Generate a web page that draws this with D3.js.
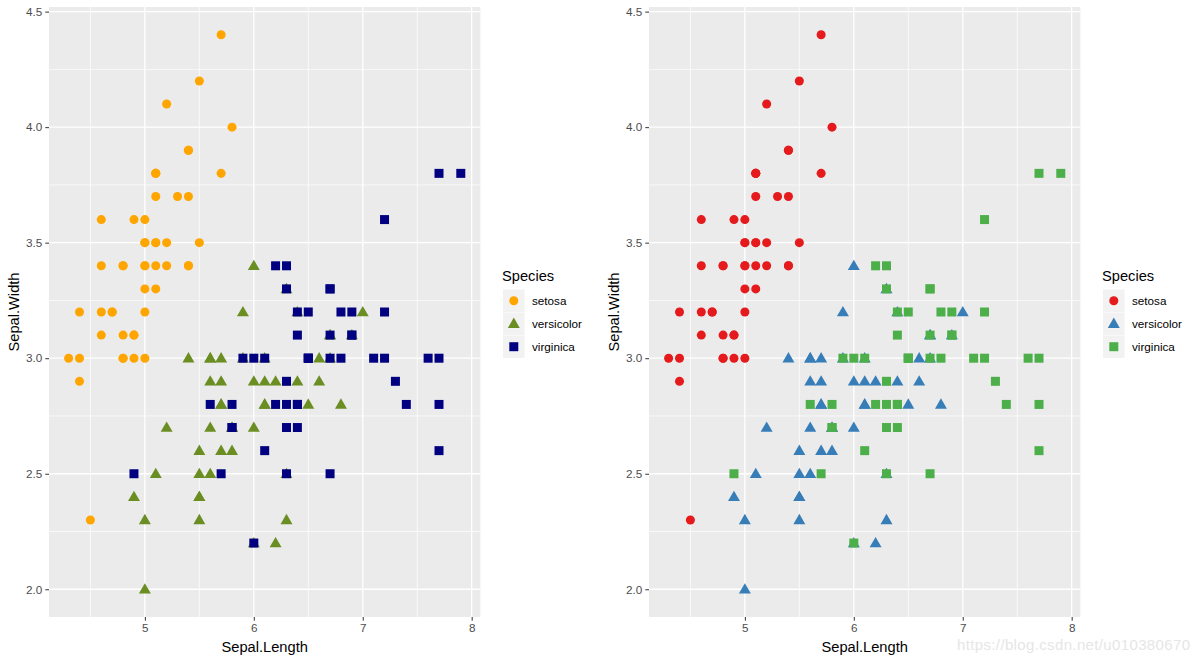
<!DOCTYPE html>
<html><head><meta charset="utf-8">
<script src="https://cdn.jsdelivr.net/npm/d3@7"></script>
<style>body{margin:0;background:#fff}svg{display:block}text{font-family:"Liberation Sans",Arial,sans-serif}</style>
</head><body><svg id="c" width="1200" height="663"></svg>
<script>
const speciesNames = ["setosa","versicolor","virginica"];
const setosaLength = [5.1,4.9,4.7,4.6,5.0,5.4,4.6,5.0,4.4,4.9,5.4,4.8,4.8,4.3,5.8,5.7,5.4,5.1,5.7,5.1,5.4,5.1,4.6,5.1,4.8,5.0,5.0,5.2,5.2,4.7,4.8,5.4,5.2,5.5,4.9,5.0,5.5,4.9,4.4,5.1,5.0,4.5,4.4,5.0,5.1,4.8,5.1,4.6,5.3,5.0];
const setosaWidth  = [3.5,3.0,3.2,3.1,3.6,3.9,3.4,3.4,2.9,3.1,3.7,3.4,3.0,3.0,4.0,4.4,3.9,3.5,3.8,3.8,3.4,3.7,3.6,3.3,3.4,3.0,3.4,3.5,3.4,3.2,3.1,3.4,4.1,4.2,3.1,3.2,3.5,3.6,3.0,3.4,3.5,2.3,3.2,3.5,3.8,3.0,3.8,3.2,3.7,3.3];
const versicolorLength = [7.0,6.4,6.9,5.5,6.5,5.7,6.3,4.9,6.6,5.2,5.0,5.9,6.0,6.1,5.6,6.7,5.6,5.8,6.2,5.6,5.9,6.1,6.3,6.1,6.4,6.6,6.8,6.7,6.0,5.7,5.5,5.5,5.8,6.0,5.4,6.0,6.7,6.3,5.6,5.5,5.5,6.1,5.8,5.0,5.6,5.7,5.7,6.2,5.1,5.7];
const versicolorWidth  = [3.2,3.2,3.1,2.3,2.8,2.8,3.3,2.4,2.9,2.7,2.0,3.0,2.2,2.9,2.9,3.1,3.0,2.7,2.2,2.5,3.2,2.8,2.5,2.8,2.9,3.0,2.8,3.0,2.9,2.6,2.4,2.4,2.7,2.7,3.0,3.4,3.1,2.3,3.0,2.5,2.6,3.0,2.6,2.3,2.7,3.0,2.9,2.9,2.5,2.8];
const virginicaLength = [6.3,5.8,7.1,6.3,6.5,7.6,4.9,7.3,6.7,7.2,6.5,6.4,6.8,5.7,5.8,6.4,6.5,7.7,7.7,6.0,6.9,5.6,7.7,6.3,6.7,7.2,6.2,6.1,6.4,7.2,7.4,7.9,6.4,6.3,6.1,7.7,6.3,6.4,6.0,6.9,6.7,6.9,5.8,6.8,6.7,6.7,6.3,6.5,6.2,5.9];
const virginicaWidth  = [3.3,2.7,3.0,2.9,3.0,3.0,2.5,2.9,2.5,3.6,3.2,2.7,3.0,2.5,2.8,3.2,3.0,3.8,2.6,2.2,3.2,2.8,2.8,2.7,3.3,3.2,2.8,3.0,2.8,3.0,2.8,3.8,2.8,2.8,2.6,3.0,3.4,3.1,3.0,3.1,3.1,3.1,2.7,3.2,3.3,3.0,2.5,3.0,3.4,3.0];
const xTicks = [5,6,7,8];
const yTicks = ["2.0","2.5","3.0","3.5","4.0","4.5"];
const leftColors = ["#FFA500","#6B8E23","#000080"];
const rightColors = ["#E41A1C","#377EB8","#4DAF4A"];

const groups = [
  {name: speciesNames[0], xs: setosaLength, ys: setosaWidth},
  {name: speciesNames[1], xs: versicolorLength, ys: versicolorWidth},
  {name: speciesNames[2], xs: virginicaLength, ys: virginicaWidth}
];
const shapes = [d3.symbolCircle, d3.symbolTriangle, d3.symbolSquare];
const sizes = [64, 62, 81];

const svg = d3.select("#c");
const tickCol = "#4D4D4D";

function panel(ox, colors) {
  const g = svg.append("g").attr("transform", `translate(${ox},0)`);
  const x = d3.scaleLinear().domain([4.12, 8.08]).range([49, 480.4]);
  const y = d3.scaleLinear().domain([1.88, 4.52]).range([617, 7]);
  g.append("rect").attr("x", 49).attr("y", 7).attr("width", 431.4).attr("height", 610).attr("fill", "#EBEBEB");
  const minorX = [4.5,5.5,6.5,7.5], minorY = [2.25,2.75,3.25,3.75,4.25];
  minorX.forEach(v => g.append("line").attr("x1", x(v)).attr("x2", x(v)).attr("y1", 7).attr("y2", 617).attr("stroke", "#fff").attr("stroke-width", 0.7));
  minorY.forEach(v => g.append("line").attr("y1", y(v)).attr("y2", y(v)).attr("x1", 49).attr("x2", 480.4).attr("stroke", "#fff").attr("stroke-width", 0.7));
  xTicks.forEach(v => g.append("line").attr("x1", x(v)).attr("x2", x(v)).attr("y1", 7).attr("y2", 617).attr("stroke", "#fff").attr("stroke-width", 1.3));
  yTicks.forEach(v => g.append("line").attr("y1", y(+v)).attr("y2", y(+v)).attr("x1", 49).attr("x2", 480.4).attr("stroke", "#fff").attr("stroke-width", 1.3));
  const xa = g.append("g").attr("transform", "translate(0,617)")
    .call(d3.axisBottom(x).tickValues(xTicks).tickSize(3.7).tickPadding(3).tickFormat(d3.format("d")));
  const ya = g.append("g").attr("transform", "translate(49,0)")
    .call(d3.axisLeft(y).tickValues(yTicks.map(Number)).tickSize(3.7).tickPadding(3).tickFormat((d,i) => yTicks[i]));
  [xa, ya].forEach(a => {
    a.select(".domain").remove();
    a.selectAll(".tick line").attr("stroke", "#333").attr("stroke-width", 1);
    a.selectAll(".tick text").attr("fill", tickCol).style("font-size", "11.7px").style("font-family", '"Liberation Sans",Arial,sans-serif');
  });
  groups.forEach((grp, i) => {
    const sym = d3.symbol().type(shapes[i]).size(sizes[i]);
    g.append("g").selectAll("path").data(grp.xs.map((v, j) => [v, grp.ys[j]])).join("path")
      .attr("d", sym)
      .attr("transform", d => `translate(${x(d[0])},${y(d[1]) + (i === 1 ? 0.8 : 0)})`)
      .attr("fill", colors[i]);
  });
  g.append("text").attr("x", 264.7).attr("y", 652).attr("text-anchor", "middle").style("font-size", "14.67px").attr("fill", "#000").text("Sepal.Length");
  g.append("text").attr("transform", "translate(19,312) rotate(-90)").attr("text-anchor", "middle").style("font-size", "14.67px").attr("fill", "#000").text("Sepal.Width");
  const lx = 502;
  g.append("text").attr("x", lx).attr("y", 281).style("font-size", "14.67px").attr("fill", "#000").text("Species");
  groups.forEach((grp, i) => {
    const ky = 289.5 + i * 23;
    g.append("rect").attr("x", lx + 1).attr("y", ky).attr("width", 21.5).attr("height", 22.5).attr("fill", "#F2F2F2");
    g.append("path").attr("d", d3.symbol().type(shapes[i]).size(sizes[i])()).attr("transform", `translate(${lx + 11.8},${ky + 11.2 + (i === 1 ? 0.8 : 0)})`).attr("fill", colors[i]);
    g.append("text").attr("x", lx + 30).attr("y", ky + 15.5).style("font-size", "11.7px").attr("fill", "#000").text(grp.name);
  });
}
panel(0, leftColors);
panel(600, rightColors);

svg.append("text").attr("x", 957).attr("y", 650).attr("textLength", 233).style("font-size", "15px").attr("fill", "#E6E6E6").text("https://blog.csdn.net/u010380670");
</script></body></html>
